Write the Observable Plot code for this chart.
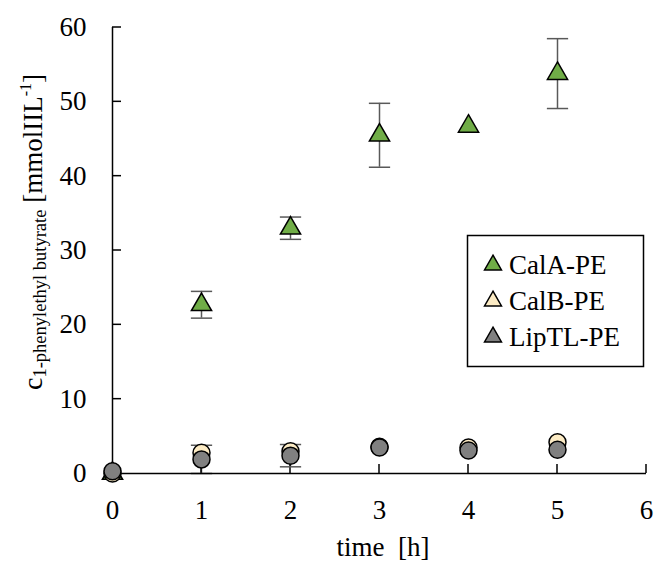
<!DOCTYPE html>
<html>
<head>
<meta charset="utf-8">
<script src="https://cdn.jsdelivr.net/npm/d3@7"></script>
<script src="https://cdn.jsdelivr.net/npm/@observablehq/plot@0.6"></script>
<style>
  html, body { margin: 0; padding: 0; background: #fff; }
  #chart svg { display: block; }
</style>
</head>
<body>
<div id="chart"></div>
<script>
// ---- data ----
const times = [0, 1, 2, 3, 4, 5];
const calA = [0, 22.7, 33.0, 45.5, 46.7, 53.8];
const calAErr = [0, 1.8, 1.5, 4.3, 0, 4.7];
const calB = [0, 2.8, 3.0, 3.6, 3.5, 4.2];
const calBErr = [0, 0, 0, 0, 0, 0];
const lipTL = [0.3, 1.9, 2.4, 3.5, 3.1, 3.2];
const lipTLErr = [0, 1.9, 1.5, 0, 0, 0];
const seriesNames = ["CalA-PE", "CalB-PE", "LipTL-PE"];
const xTicks = [0, 1, 2, 3, 4, 5, 6];
const yTicks = [0, 10, 20, 30, 40, 50, 60];

const fills = { "CalA-PE": "#70AD47", "CalB-PE": "#FCEBC4", "LipTL-PE": "#808080" };

const rows = [];
[[calA, calAErr], [calB, calBErr], [lipTL, lipTLErr]].forEach(([vals, errs], si) => {
  times.forEach((t, i) => rows.push({ series: seriesNames[si], t, v: vals[i], e: errs[i] }));
});
const errRows = rows.filter(d => d.e > 0);

const W = 656, H = 563;
const mL = 112, mR = 10, mT = 27, mB = 90;
const font = "'Liberation Serif', 'Times New Roman', serif";
const tickLen = 9;

const capSymbol = {
  draw(ctx, size) { const r = Math.sqrt(size); ctx.moveTo(-r, 0); ctx.lineTo(r, 0); }
};

const chart = Plot.plot({
  width: W, height: H,
  marginLeft: mL, marginRight: mR, marginTop: mT, marginBottom: mB,
  style: { fontFamily: font, background: "#fff", overflow: "visible" },
  x: { domain: [0, 6], label: null },
  y: { domain: [0, 60], label: null },
  marks: [
    Plot.axisX({ ticks: xTicks, tickSize: 0, tickPadding: 26, fontSize: 27, tickFormat: d => String(d), fill: "#000" }),
    Plot.axisY({ ticks: yTicks, tickSize: 0, tickPadding: 26, fontSize: 27, tickFormat: d => String(d), fill: "#000" }),
    Plot.ruleX(errRows, { x: "t", y1: d => d.v - d.e, y2: d => d.v + d.e, stroke: "#595959", strokeWidth: 1.5 }),
    Plot.dot(errRows, { x: "t", y: d => d.v + d.e, symbol: capSymbol, r: 6, stroke: "#595959", strokeWidth: 1.5, fill: "none" }),
    Plot.dot(errRows, { x: "t", y: d => d.v - d.e, symbol: capSymbol, r: 6, stroke: "#595959", strokeWidth: 1.5, fill: "none" }),
    Plot.ruleX([0], { stroke: "#000", strokeWidth: 1.5 }),
    Plot.ruleY([0], { stroke: "#000", strokeWidth: 1.5 }),
    Plot.dot(rows.filter(d => d.series === "CalA-PE"), { x: "t", y: "v", symbol: "triangle", r: 7.5, fill: fills["CalA-PE"], stroke: "#000", strokeWidth: 1.5 }),
    Plot.dot(rows.filter(d => d.series === "CalB-PE"), { x: "t", y: "v", r: 8.5, fill: fills["CalB-PE"], stroke: "#000", strokeWidth: 1.5 }),
    Plot.dot(rows.filter(d => d.series === "LipTL-PE"), { x: "t", y: "v", r: 8.5, fill: fills["LipTL-PE"], stroke: "#000", strokeWidth: 1.5 })
  ]
});

const svg = d3.select(chart);
const sx = chart.scale("x"), sy = chart.scale("y");
const x0 = sx.apply(0), y0 = sy.apply(0);

// inward tick marks, placed beneath the data markers
const tg = svg.insert("g", "g[aria-label='dot']");
xTicks.forEach(t => {
  const px = sx.apply(t);
  tg.append("path").attr("d", `M${px},${y0}V${y0 - tickLen}`)
    .attr("stroke", "#000").attr("stroke-width", 1.5).attr("fill", "none");
});
yTicks.forEach(t => {
  const py = sy.apply(t);
  tg.append("path").attr("d", `M${x0},${py}H${x0 + tickLen}`)
    .attr("stroke", "#000").attr("stroke-width", 1.5).attr("fill", "none");
});

svg.append("text")
  .attr("x", 383).attr("y", 556)
  .attr("text-anchor", "middle")
  .style("font-family", font).style("font-size", "27px").attr("fill", "#000")
  .attr("xml:space", "preserve")
  .text("time  [h]");

const yt = svg.append("text")
  .attr("transform", "translate(42,232) rotate(-90)")
  .attr("text-anchor", "middle")
  .style("font-family", font).attr("fill", "#000");
yt.append("tspan").style("font-size", "28px").text("c");
yt.append("tspan").style("font-size", "18.5px").attr("dy", 4).text("1-phenylethyl butyrate");
yt.append("tspan").style("font-size", "27px").attr("dy", -4).text(" [mmolIIL");
yt.append("tspan").style("font-size", "16px").attr("dy", -11).text("-1");
yt.append("tspan").style("font-size", "27px").attr("dy", 11).text("]");

const lg = svg.append("g");
lg.append("rect").attr("x", 467.5).attr("y", 235.5).attr("width", 176).attr("height", 131)
  .attr("fill", "#fff").attr("stroke", "#000").attr("stroke-width", 1.5);
const tri = d3.symbol(d3.symbolTriangle, 7.5 * 7.5 * 2.2)();
seriesNames.forEach((name, i) => {
  const cy = 265 + i * 36;
  lg.append("path").attr("d", tri).attr("transform", `translate(493,${cy})`)
    .attr("fill", fills[name]).attr("stroke", "#000").attr("stroke-width", 1.5);
  lg.append("text").attr("x", 509).attr("y", cy + 9)
    .attr("text-anchor", "start")
    .style("font-family", font).style("font-size", "27px").attr("fill", "#000")
    .text(name);
});

document.getElementById("chart").appendChild(chart);
</script>
</body>
</html>
